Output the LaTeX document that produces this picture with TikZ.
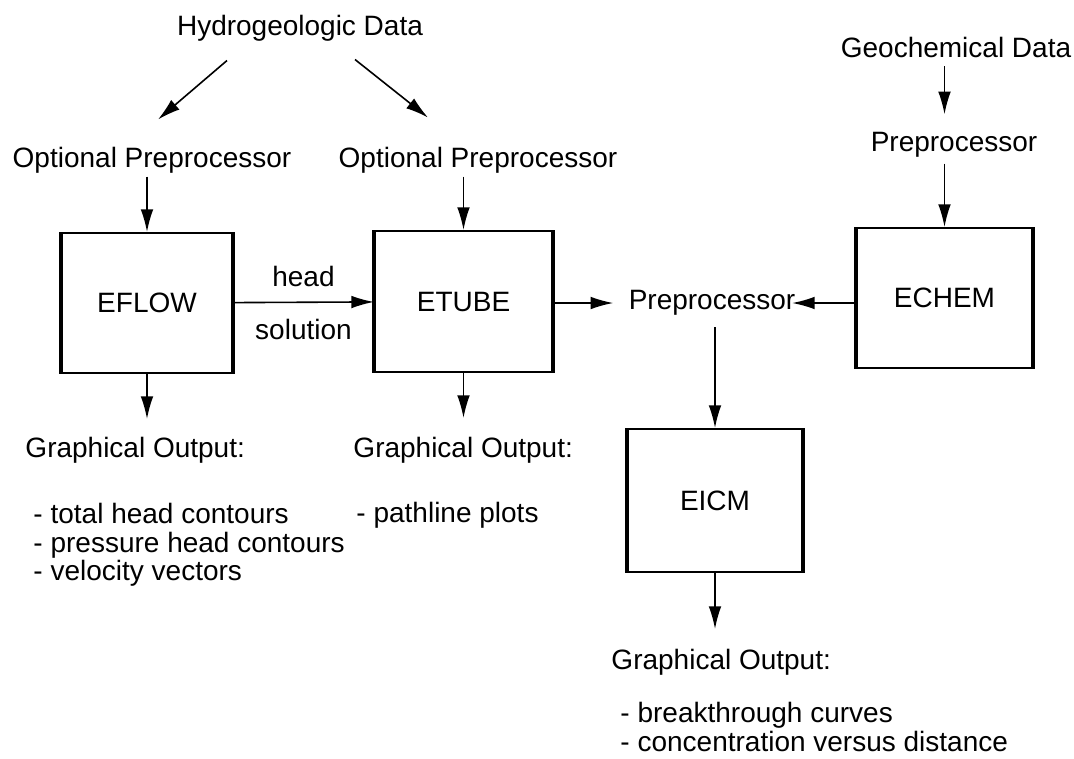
\documentclass[tikz,border=0pt]{standalone}
\usepackage{fontspec}
\setmainfont{Liberation Sans}
\usetikzlibrary{arrows.meta,positioning}

\tikzstyle{module} = [rectangle, draw=black, line width=1.5pt, inner sep=0pt]
\tikzstyle{txt} = [inner sep=2pt, font=\fontsize{21}{21.5}\selectfont]
\tikzstyle{notes} = [txt, align=left, anchor=west]

\begin{document}
\begin{tikzpicture}[x=0.75pt, y=-0.75pt, line width=1.2pt, >={Latex[length=17pt,width=9.5pt]}]
\useasboundingbox (0,0) rectangle (1074,758);

% inputs and preprocessors
\node (hydro) [txt] at (300,28) {Hydrogeologic Data};
\node (geo) [txt] at (956,47) {Geochemical Data};
\node (optpre1) [txt] at (152,160) {Optional Preprocessor};
\node (optpre2) [txt] at (478,160) {Optional Preprocessor};
\node (chempre) [txt] at (954,145) {Preprocessor};
\node (midpre) [txt] at (712,303) {Preprocessor};

% codes
\node (eflow) [module, minimum width=127.5pt, minimum height=105pt] at (147,303) {\fontsize{21}{21.5}\selectfont EFLOW};
\node (etube) [module, minimum width=132.75pt, minimum height=105.75pt] at (463.5,301.5) {\fontsize{21}{21.5}\selectfont ETUBE};
\node (echem) [module, minimum width=131.25pt, minimum height=105pt] at (944.5,298) {\fontsize{21}{21.5}\selectfont ECHEM};
\node (eicm) [module, minimum width=130.5pt, minimum height=107.25pt] at (715,500.5) {\fontsize{21}{21.5}\selectfont EICM};

% heavy side walls
\foreach \b in {eflow,etube,echem,eicm}
  \draw [line width=3.4pt] (\b.north west) -- (\b.south west) (\b.north east) -- (\b.south east);

% outputs
\node (out1) [txt, anchor=west] at (22,450) {Graphical Output:};
\node (list1) [notes] at (30,545) {- total head contours\\- pressure head contours\\- velocity vectors};
\node (out2) [txt, anchor=west] at (350,450) {Graphical Output:};
\node (list2) [notes] at (353,515) {- pathline plots};
\node (out3) [txt, anchor=west] at (608,662) {Graphical Output:};
\node (list3) [notes] at (617,727) {- breakthrough curves\\- concentration versus distance};

\draw [->] ([shift={(-73,16)}]hydro.south) -- ++(-69,59);
\draw [->] ([shift={(55,15)}]hydro.south) -- ++(73,58);
\draw [->] (eflow.north |- optpre1.south) -- (eflow.north);
\draw [->] (etube.north |- optpre2.south) -- (etube.north);
\draw [->, shorten <=4pt, shorten >=11pt] (geo.south -| echem.north) -- (chempre.north -| echem.north);
\draw [->, shorten <=2pt] (chempre.south -| echem.north) -- (echem.north);

\draw [->] (eflow) -- (etube) node [midway, txt, above=9pt] {head} node [midway, txt, below=10pt] {solution};
\draw [->, shorten >=9pt] (etube.east |- midpre) -- (midpre.west);
\draw [->, shorten >=-5pt] (echem.west |- midpre) -- (midpre.east);
\draw [->, shorten <=6pt] (midpre.south -| eicm.north) -- (eicm.north);

\draw [->] (eflow.south) -- ++(0,45);
\draw [->] (etube.south) -- ++(0,45);
\draw [->] (eicm.south) -- ++(0,56);
\end{tikzpicture}
\end{document}
